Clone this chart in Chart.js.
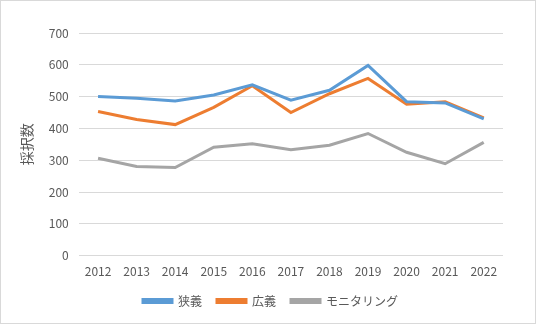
<!DOCTYPE html>
<html lang="ja">
<head>
  <meta charset="UTF-8" />
  <title>採択数</title>
  <script src="https://cdn.jsdelivr.net/npm/chart.js"></script>
  <style>
    html, body { margin: 0; padding: 0; background: #fff; }
    #wrap { width: 534px; height: 322px; border: 1px solid #d9d9d9; position: relative; }
  </style>
</head>
<body>
  <div id="wrap"><canvas id="chart"></canvas></div>

  <script>
    const years = ["2012", "2013", "2014", "2015", "2016", "2017", "2018", "2019", "2020", "2021", "2022"];
    const narrow = [500, 495, 486, 505, 537, 489, 520, 598, 484, 480, 430];
    const broad = [453, 428, 412, 466, 534, 450, 509, 557, 476, 484, 433];
    const monitoring = [306, 280, 277, 341, 352, 333, 347, 384, 325, 289, 356];

    const font = "'Noto Sans CJK JP', 'Noto Sans', sans-serif";
    const textColor = "#595959";

    function line(label, data, color) {
      return {
        label: label,
        data: data,
        borderColor: color,
        backgroundColor: color,
        borderWidth: 3,
        pointRadius: 0,
        tension: 0
      };
    }

    // legend sits centred on the whole frame, not between the paddings
    const shiftLegend = {
      id: "shiftLegend",
      afterLayout(chart) {
        chart.legend.left += 12;
        chart.legend.right += 12;
      }
    };

    new Chart(document.getElementById("chart"), {
      type: "line",
      data: {
        labels: years,
        datasets: [
          line("狭義", narrow, "#5B9BD5"),
          line("広義", broad, "#ED7D31"),
          line("モニタリング", monitoring, "#A5A5A5")
        ]
      },
      options: {
        responsive: true,
        maintainAspectRatio: false,
        animation: false,
        layout: { padding: { left: 13, right: 32, top: 32, bottom: 6 } },
        plugins: {
          legend: {
            position: "bottom",
            labels: {
              boxWidth: 29,
              boxHeight: 3,
              color: textColor,
              padding: 15,
              font: { family: font, size: 12 }
            }
          },
          tooltip: { enabled: false }
        },
        scales: {
          x: {
            offset: true,
            grid: { display: false },
            border: { display: false },
            ticks: { color: textColor, font: { family: font, size: 12 }, padding: 1, maxRotation: 0 }
          },
          y: {
            min: 0,
            max: 700,
            ticks: { stepSize: 100, color: textColor, font: { family: font, size: 12 }, padding: 10 },
            grid: { color: "#d9d9d9", drawTicks: false },
            border: { display: false },
            title: {
              display: true,
              text: "採択数",
              color: textColor,
              font: { family: font, size: 14 }
            }
          }
        }
      },
      plugins: [shiftLegend]
    });
  </script>
</body>
</html>
